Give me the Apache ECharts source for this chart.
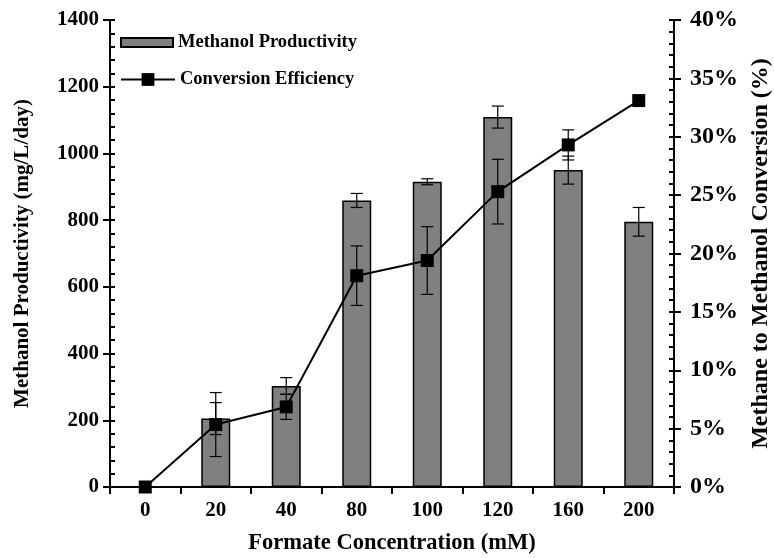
<!DOCTYPE html>
<html>
<head>
<meta charset="utf-8">
<script src="https://cdn.jsdelivr.net/npm/echarts@6/dist/echarts.min.js"></script>
<style>
  html, body { margin: 0; padding: 0; background: #fff; }
  #chart { width: 774px; height: 558px; }
</style>
</head>
<body>
<div id="chart"></div>
<script>
// Formate concentration (mM) on the category axis
const categories = ['0', '20', '40', '80', '100', '120', '160', '200'];
// Methanol productivity (mg/L/day) and its error
const productivity = [0, 205, 303, 859, 915, 1109, 950, 795];
const productivityErr = [0, 48, 25, 21, 9, 33, 42, 43];
// Methane-to-methanol conversion efficiency (fraction) and its error
const conversion = [0, 0.0535, 0.0686, 0.181, 0.194, 0.253, 0.293, 0.331];
const conversionErr = [0, 0.0274, 0.0107, 0.0255, 0.029, 0.0277, 0.0129, 0];
// Axis ranges
const leftTicks = { min: 0, max: 1400, interval: 200 };
const rightTicks = { min: 0, max: 0.4, interval: 0.05 };

const FONT = 'Liberation Serif';
const txt = (size) => ({ fontFamily: FONT, fontWeight: 'bold', fontSize: size, color: '#000' });

function errorBars(values, errs) {
  return {
    data: values.map((v, i) => [i, v, errs[i]]),
    renderItem: function (params, api) {
      const i = api.value(0), v = api.value(1), e = api.value(2);
      if (!e) return null;
      const hi = api.coord([i, v + e]);
      const lo = api.coord([i, v - e]);
      const hw = 6;
      const st = { stroke: '#000', lineWidth: 1.2 };
      return {
        type: 'group',
        children: [
          { type: 'line', shape: { x1: hi[0], y1: hi[1], x2: lo[0], y2: lo[1] }, style: st },
          { type: 'line', shape: { x1: hi[0] - hw, y1: hi[1], x2: hi[0] + hw, y2: hi[1] }, style: st },
          { type: 'line', shape: { x1: lo[0] - hw, y1: lo[1], x2: lo[0] + hw, y2: lo[1] }, style: st }
        ]
      };
    }
  };
}

const axisLine = { show: true, lineStyle: { color: '#000', width: 2 } };

const chart = echarts.init(document.getElementById('chart'), null, { renderer: 'canvas' });
chart.setOption({
  animation: false,
  backgroundColor: '#fff',
  grid: { left: 110, right: 100, top: 20, bottom: 71, containLabel: false, outerBoundsMode: 'none' },
  legend: [
    {
      left: 115,
      top: 28,
      itemWidth: 52,
      itemHeight: 9,
      itemGap: 6,
      textStyle: txt(18.5),
      data: [{ name: 'Methanol Productivity', icon: 'rect' }]
    },
    {
      left: 115,
      top: 65,
      itemWidth: 54,
      itemHeight: 16,
      textStyle: txt(18.5),
      data: ['Conversion Efficiency']
    }
  ],
  xAxis: [{
    type: 'category',
    data: categories,
    axisLine: axisLine,
    axisTick: { show: true, length: 7, lineStyle: { color: '#000', width: 2 } },
    axisLabel: Object.assign(txt(21), { margin: 13 }),
    name: 'Formate Concentration (mM)',
    nameLocation: 'middle',
    nameGap: 45,
    nameTextStyle: txt(22.5),
    splitLine: { show: false }
  }],
  yAxis: [
    {
      type: 'value', position: 'left',
      min: leftTicks.min, max: leftTicks.max, interval: leftTicks.interval,
      axisLine: axisLine,
      axisTick: { show: true, length: 7, lineStyle: { color: '#000', width: 2 } },
      axisLabel: Object.assign(txt(21), { margin: 11, formatter: (v) => String(v) }),
      splitLine: { show: false },
      name: 'Methanol Productivity (mg/L/day)',
      nameLocation: 'middle',
      nameGap: 77,
      nameTextStyle: txt(21)
    },
    {
      type: 'value', position: 'right',
      min: rightTicks.min, max: rightTicks.max, interval: rightTicks.interval,
      axisLine: axisLine,
      axisTick: { show: true, length: 7, lineStyle: { color: '#000', width: 2 } },
      axisLabel: Object.assign(txt(24), {
        margin: 16,
        formatter: (v) => Math.round(v * 100) + '%'
      }),
      splitLine: { show: false },
      name: 'Methane to Methanol Conversion (%)',
      nameLocation: 'middle',
      nameGap: 64,
      nameRotate: 90,
      nameTextStyle: txt(24)
    },
    {
      // inner ticks on the left axis
      type: 'value', position: 'left',
      min: leftTicks.min, max: leftTicks.max, interval: leftTicks.interval,
      axisLine: { show: false },
      axisTick: { show: true, inside: true, length: 5, lineStyle: { color: '#000', width: 2 } },
      minorTick: { show: true, splitNumber: 5, length: 5, lineStyle: { color: '#000', width: 2 } },
      axisLabel: { show: false },
      splitLine: { show: false }
    },
    {
      // inner ticks on the right axis
      type: 'value', position: 'right',
      min: rightTicks.min, max: rightTicks.max, interval: rightTicks.interval,
      axisLine: { show: false },
      axisTick: { show: true, inside: true, length: 5, lineStyle: { color: '#000', width: 2 } },
      minorTick: { show: true, splitNumber: 5, length: 5, lineStyle: { color: '#000', width: 2 } },
      axisLabel: { show: false },
      splitLine: { show: false }
    }
  ],
  series: [
    {
      name: 'Methanol Productivity',
      type: 'bar',
      yAxisIndex: 0,
      data: productivity,
      barWidth: 29,
      itemStyle: { color: '#808080', borderColor: '#000', borderWidth: 1.5 },
      z: 2
    },
    Object.assign({
      name: 'prodErr',
      type: 'custom',
      xAxisIndex: 0,
      yAxisIndex: 0,
      z: 3,
      silent: true
    }, errorBars(productivity, productivityErr)),
    {
      name: 'Conversion Efficiency',
      type: 'line',
      yAxisIndex: 1,
      data: conversion,
      symbol: 'rect',
      symbolSize: 13,
      lineStyle: { color: '#000', width: 2 },
      itemStyle: { color: '#000' },
      z: 5
    },
    Object.assign({
      name: 'convErr',
      type: 'custom',
      xAxisIndex: 0,
      yAxisIndex: 1,
      z: 4,
      silent: true
    }, errorBars(conversion, conversionErr))
  ]
});
</script>
</body>
</html>
